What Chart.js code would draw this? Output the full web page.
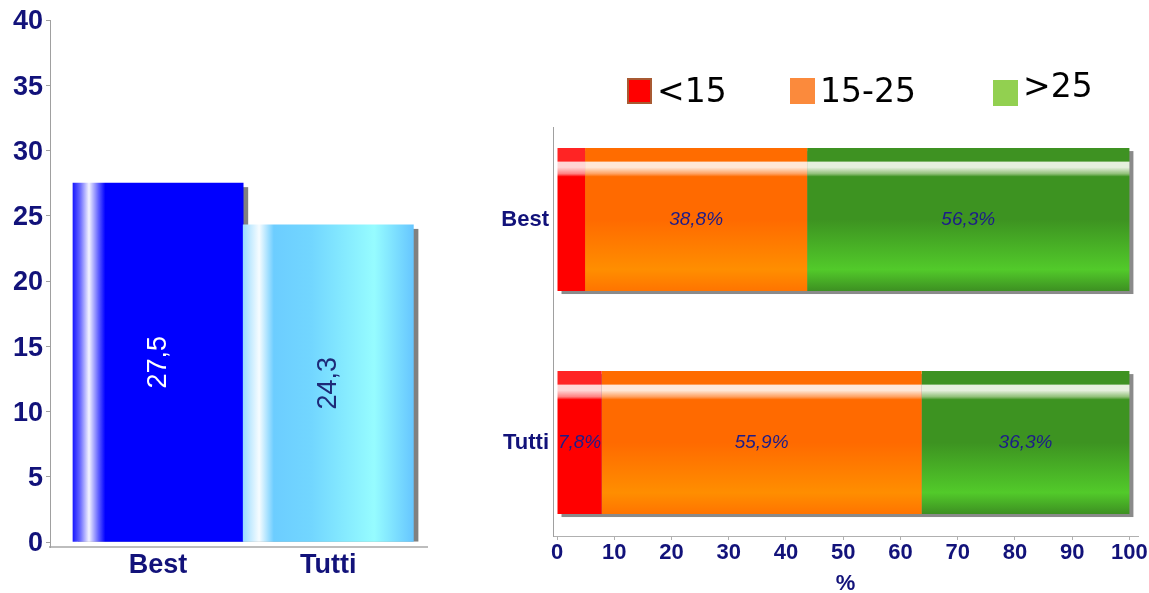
<!DOCTYPE html>
<html>
<head>
<meta charset="utf-8">
<script src="https://cdn.jsdelivr.net/npm/chart.js@4.4.1/dist/chart.umd.min.js"></script>
<style>
  html, body { margin: 0; padding: 0; background: #ffffff; }
  #wrap { position: relative; width: 1149px; height: 593px; overflow: hidden; background: #fff; }
  #c1 { position: absolute; left: 0; top: 0; }
  #c2 { position: absolute; left: 460px; top: 0; }
  .lg-item { position: absolute; font-family: 'DejaVu Sans', sans-serif; font-size: 33px; line-height: 1; color: #000; white-space: nowrap; }
  .lg-box { position: absolute; width: 25px; height: 26px; box-sizing: border-box; }
</style>
</head>
<body>
<div id="wrap">
  <canvas id="c1" width="440" height="593" style="width:440px;height:593px"></canvas>
  <canvas id="c2" width="689" height="593" style="width:689px;height:593px"></canvas>
  <div id="legend"></div>
</div>
<script>
// ---------- data ----------
const categories = ['Best', 'Tutti'];
const avgValues = [27.5, 24.3];
const seriesLabels = ['<15', '15-25', '>25'];
const shareLow = [4.9, 7.8];
const shareMid = [38.8, 55.9];
const shareHigh = [56.3, 36.3];
const legendColors = ['#ff0000', '#fb8a3c', '#92d050'];

// ---------- helpers ----------
const NAVY = '#12127a';
const fmt = (v) => v.toFixed(1).replace('.', ',');
const catTick = (v) => (Number.isInteger(v) && categories[v] !== undefined) ? categories[v] : '';

// shadow plugin: gray rectangle offset behind each bar / stacked row
const barShadow = {
  id: 'barShadow',
  beforeDatasetsDraw(chart, args, opts) {
    const ctx = chart.ctx;
    ctx.save();
    ctx.fillStyle = opts.color || '#7a7a7a';
    const horizontal = chart.options.indexAxis === 'y';
    const rows = {};
    chart.data.datasets.forEach((ds, di) => {
      const meta = chart.getDatasetMeta(di);
      meta.data.forEach((el, i) => {
        const p = el.getProps(['x', 'y', 'base', 'width', 'height'], true);
        let l, r, t, b;
        if (horizontal) {
          l = Math.min(p.base, p.x); r = Math.max(p.base, p.x);
          t = p.y - p.height / 2; b = p.y + p.height / 2;
        } else {
          l = p.x - p.width / 2; r = p.x + p.width / 2;
          t = Math.min(p.y, p.base); b = Math.max(p.y, p.base);
        }
        const row = rows[i] || (rows[i] = { l: l, r: r, t: t, b: b });
        row.l = Math.min(row.l, l); row.r = Math.max(row.r, r);
        row.t = Math.min(row.t, t); row.b = Math.max(row.b, b);
      });
    });
    const dx = opts.dx, dy = opts.dy;
    Object.values(rows).forEach((rw) => {
      const bottom = opts.clipBottom ? rw.b : rw.b + dy;
      ctx.fillRect(rw.l + dx, rw.t + dy, rw.r - rw.l, bottom - rw.t - dy);
    });
    ctx.restore();
  }
};

// ---------- left chart ----------
function leftGradient(c) {
  const chart = c.chart;
  const fallback = c.dataIndex === 0 ? '#0000ff' : '#80e0ff';
  if (!chart.chartArea || !chart.scales.x) return fallback;
  const xs = chart.scales.x;
  const cx = xs.getPixelForValue(c.dataIndex);
  const half = Math.abs(xs.getPixelForValue(1) - xs.getPixelForValue(0)) / 2;
  const g = chart.ctx.createLinearGradient(cx - half, 0, cx + half, 0);
  if (c.dataIndex === 0) {
    g.addColorStop(0, '#1a1aff');
    g.addColorStop(0.045, '#7070ff');
    g.addColorStop(0.094, '#f4f4ff');
    g.addColorStop(0.15, '#6060ff');
    g.addColorStop(0.19, '#0000ff');
    g.addColorStop(1, '#0000ff');
  } else {
    g.addColorStop(0, '#9adcff');
    g.addColorStop(0.094, '#f6fcff');
    g.addColorStop(0.18, '#6ccdff');
    g.addColorStop(0.4, '#72d6ff');
    g.addColorStop(0.77, '#96fcff');
    g.addColorStop(1, '#66c6ff');
  }
  return g;
}

const leftLabels = {
  id: 'leftLabels',
  afterDatasetsDraw(chart) {
    const ctx = chart.ctx;
    const meta = chart.getDatasetMeta(0);
    ctx.save();
    ctx.font = '27px "Liberation Sans", Arial, sans-serif';
    ctx.textAlign = 'center';
    ctx.textBaseline = 'middle';
    meta.data.forEach((el, i) => {
      const p = el.getProps(['x', 'y', 'base'], true);
      ctx.save();
      ctx.translate(p.x, (p.y + p.base) / 2);
      ctx.rotate(-Math.PI / 2);
      ctx.fillStyle = i === 0 ? '#ffffff' : '#1e2a78';
      ctx.fillText(fmt(avgValues[i]), 0, 0);
      ctx.restore();
    });
    ctx.restore();
  }
};

new Chart(document.getElementById('c1'), {
  type: 'bar',
  data: {
    datasets: [{
      data: categories.map((c, i) => ({ x: i, y: avgValues[i] })),
      backgroundColor: leftGradient,
      borderWidth: 0,
      barPercentage: 1,
      categoryPercentage: 1
    }]
  },
  options: {
    responsive: false,
    animation: false,
    layout: { padding: { top: 20, right: 13, left: 0, bottom: 0 } },
    plugins: {
      legend: { display: false },
      tooltip: { enabled: false },
      barShadow: { dx: 5, dy: 4, color: '#808080', clipBottom: true }
    },
    scales: {
      x: {
        type: 'linear',
        offset: false,
        min: -0.635,
        max: 1.58,
        grid: { display: false, drawTicks: false, offset: false },
        border: { display: true, color: '#bdbdbd', width: 2 },
        ticks: {
          stepSize: 1, includeBounds: false, autoSkip: false, maxRotation: 0,
          padding: 2,
          color: NAVY,
          font: { family: '"Liberation Sans", Arial, sans-serif', size: 27, weight: 'bold' },
          callback: catTick
        },
        afterFit: (s) => { s.height = 46; }
      },
      y: {
        type: 'linear',
        min: -0.38,
        max: 40,
        grid: { drawOnChartArea: false, drawTicks: true, tickLength: 4, color: '#a0a0a0' },
        border: { display: true, color: '#a0a0a0', width: 1 },
        ticks: {
          stepSize: 5, includeBounds: false, padding: 3, labelOffset: 2,
          color: NAVY,
          font: { family: '"Liberation Sans", Arial, sans-serif', size: 27, weight: 'bold' }
        },
        afterFit: (s) => { s.width = 50; }
      }
    }
  },
  plugins: [barShadow, leftLabels]
});

// ---------- right chart ----------
const segPalettes = [
  { band: '#ff2424', hl1: '#ffd6d6', hl2: '#ff8080', dark: '#ff0000', light: '#ff0000', bottom: '#ff0000' },
  { band: '#ff6c00', hl1: '#ffe8d8', hl2: '#ffa060', dark: '#ff6a00', light: '#ff8e00', bottom: '#ff7400' },
  { band: '#3e9222', hl1: '#e6f0de', hl2: '#90c078', dark: '#3d9321', light: '#52ca2a', bottom: '#3d9022' }
];
const BAR_PCT = 0.641;

function rightGradient(si) {
  return (c) => {
    const chart = c.chart;
    const pal = segPalettes[si];
    if (!chart.chartArea || !chart.scales.y) return pal.dark;
    const ys = chart.scales.y;
    const cy = ys.getPixelForValue(c.dataIndex);
    const unit = Math.abs(ys.getPixelForValue(1) - ys.getPixelForValue(0));
    const half = unit * BAR_PCT / 2;
    const g = chart.ctx.createLinearGradient(0, cy - half, 0, cy + half);
    g.addColorStop(0, pal.band);
    g.addColorStop(0.09, pal.band);
    g.addColorStop(0.10, pal.hl1);
    g.addColorStop(0.135, pal.hl1);
    g.addColorStop(0.18, pal.hl2);
    g.addColorStop(0.2, pal.dark);
    g.addColorStop(0.5, pal.dark);
    g.addColorStop(0.85, pal.light);
    g.addColorStop(1, pal.bottom);
    return g;
  };
}

const rightLabels = {
  id: 'rightLabels',
  afterDatasetsDraw(chart) {
    const ctx = chart.ctx;
    ctx.save();
    ctx.font = 'italic 19px "Liberation Sans", Arial, sans-serif';
    ctx.textAlign = 'center';
    ctx.textBaseline = 'middle';
    ctx.fillStyle = '#1c1c8a';
    chart.data.datasets.forEach((ds, di) => {
      const meta = chart.getDatasetMeta(di);
      meta.data.forEach((el, i) => {
        const p = el.getProps(['x', 'y', 'base'], true);
        const txt = fmt(ds.data[i].x) + '%';
        const w = Math.abs(p.x - p.base);
        if (ctx.measureText(txt).width > w + 2) return;
        ctx.fillText(txt, (p.x + p.base) / 2, p.y);
      });
    });
    ctx.restore();
  }
};

const shareSeries = [shareLow, shareMid, shareHigh];

new Chart(document.getElementById('c2'), {
  type: 'bar',
  data: {
    datasets: shareSeries.map((vals, si) => ({
      label: seriesLabels[si],
      data: categories.map((c, i) => ({ x: vals[i], y: i })),
      backgroundColor: rightGradient(si),
      borderWidth: 0,
      barPercentage: BAR_PCT,
      categoryPercentage: 1
    }))
  },
  options: {
    indexAxis: 'y',
    responsive: false,
    animation: false,
    layout: { padding: { top: 127, right: 11, left: 0, bottom: 0 } },
    plugins: {
      legend: { display: false },
      tooltip: { enabled: false },
      barShadow: { dx: 4, dy: 3, color: '#8a8a8a', clipBottom: false }
    },
    scales: {
      x: {
        type: 'linear',
        stacked: true,
        min: -0.7,
        max: 101.5,
        grid: { drawOnChartArea: false, drawTicks: true, tickLength: 4, color: '#b0b0b0' },
        border: { display: true, color: '#b0b0b0', width: 1 },
        ticks: {
          stepSize: 10, includeBounds: false, padding: 0, maxRotation: 0, autoSkip: false,
          color: NAVY,
          font: { family: '"Liberation Sans", Arial, sans-serif', size: 22, weight: 'bold' }
        },
        title: {
          display: true, text: '%', color: NAVY, padding: { top: 0, bottom: -4 },
          font: { family: '"Liberation Sans", Arial, sans-serif', size: 22, weight: 'bold' }
        },
        afterFit: (s) => { s.height = 57; }
      },
      y: {
        type: 'linear',
        stacked: true,
        reverse: true,
        offset: false,
        min: -0.415,
        max: 1.419,
        grid: { display: false, drawTicks: false, offset: false },
        border: { display: true, color: '#a0a0a0', width: 1 },
        ticks: {
          stepSize: 1, includeBounds: false, padding: 4, autoSkip: false,
          color: NAVY,
          font: { family: '"Liberation Sans", Arial, sans-serif', size: 22, weight: 'bold' },
          callback: catTick
        },
        afterFit: (s) => { s.width = 93; }
      }
    }
  },
  plugins: [barShadow, rightLabels]
});

// ---------- HTML legend ----------
(function buildLegend() {
  const lefts = [627, 790, 993];
  const tops = [78, 78, 80];
  const textTops = [74, 74, 69];
  const borders = ['2px solid #a85a32', 'none', 'none'];
  const host = document.getElementById('legend');
  seriesLabels.forEach((lab, i) => {
    const box = document.createElement('div');
    box.className = 'lg-box';
    box.style.left = lefts[i] + 'px';
    box.style.top = tops[i] + 'px';
    box.style.background = legendColors[i];
    box.style.border = borders[i];
    host.appendChild(box);
    const t = document.createElement('div');
    t.className = 'lg-item';
    t.style.left = (lefts[i] + 30) + 'px';
    t.style.top = textTops[i] + 'px';
    t.textContent = lab;
    host.appendChild(t);
  });
})();
</script>
</body>
</html>
